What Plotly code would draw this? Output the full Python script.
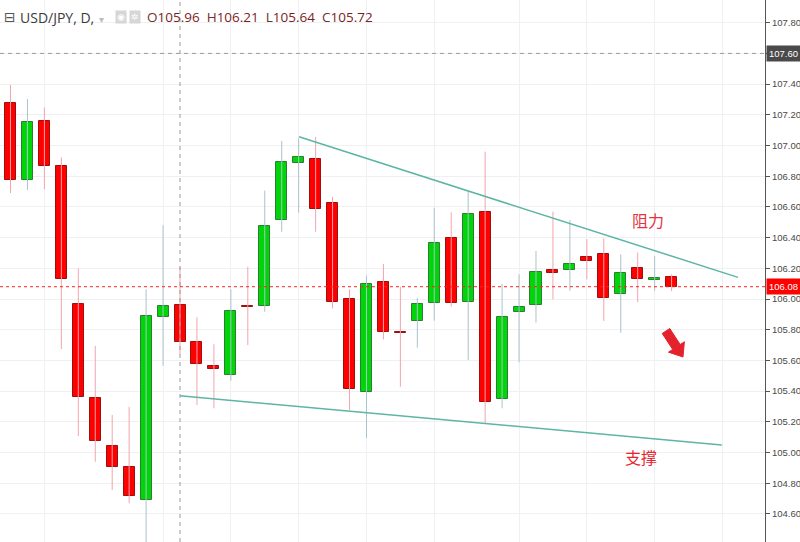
import math
import plotly.graph_objects as go

# ---------------- data ----------------
day = list(range(40))
opens = [107.275, 106.775, 107.162, 106.868, 105.967, 105.353, 105.044, 104.907, 104.690, 105.881,
         105.96, 105.718, 105.566, 105.503, 105.952, 105.956, 106.515, 106.884, 106.910, 106.627,
         106.002, 105.396, 106.113, 105.782, 105.857, 105.972, 106.395, 105.982, 106.569, 105.346,
         105.917, 105.963, 106.189, 106.189, 106.274, 106.293, 106.031, 106.202, 106.122, 106.141]
highs = [107.394, 107.303, 107.249, 106.923, 106.200, 105.694, 105.244, 105.298, 106.063, 106.480,
         106.21, 105.881, 105.705, 106.063, 106.210, 106.706, 107.029, 107.047, 107.057, 106.666,
         106.063, 106.152, 106.228, 106.080, 106.008, 106.595, 106.565, 106.704, 106.960, 106.098,
         106.161, 106.313, 106.569, 106.515, 106.391, 106.395, 106.291, 106.304, 106.280, 106.161]
lows = [106.690, 106.710, 106.715, 105.674, 105.107, 104.940, 104.756, 104.669, 104.400, 105.565,
        105.64, 105.309, 105.288, 105.468, 105.700, 105.917, 106.438, 106.562, 106.438, 105.939,
        105.277, 105.093, 105.737, 105.429, 105.683, 105.859, 105.950, 105.603, 105.190, 105.288,
        105.588, 105.846, 105.998, 106.054, 106.128, 105.857, 105.780, 105.979, 106.054, 106.052]
closes = [106.775, 107.155, 106.868, 106.132, 105.364, 105.077, 104.904, 104.717, 105.891, 105.954,
          105.72, 105.575, 105.542, 105.920, 105.948, 106.476, 106.891, 106.923, 106.588, 105.982,
          105.412, 106.096, 105.783, 105.776, 105.965, 106.363, 105.972, 106.552, 105.331, 105.885,
          105.946, 106.178, 106.167, 106.228, 106.250, 106.008, 106.167, 106.128, 106.139, 106.080]

# trend lines (day, price)
resist_x = [17.02, 42.92]
resist_y = [107.057, 106.141]
support_x = [10.0, 41.96]
support_y = [105.370, 105.049]

last_price = 106.08
cross_price = 107.60
cross_day = 10
week_grid = [2, 9, 13, 17, 21, 25, 30, 34, 38, 42]
y_ticks = [104.6, 104.8, 105.0, 105.2, 105.4, 105.6, 105.8, 106.0, 106.2, 106.4,
           106.6, 106.8, 107.0, 107.2, 107.4, 107.6, 107.8]
header_sym = "USD/JPY, D,"
ohlc_labels = ["O", "H", "L", "C"]
ohlc_vals = ["105.96", "106.21", "105.64", "105.72"]

# ---------------- styling ----------------
RED_FILL, RED_LINE, RED_WICK = "#ff0000", "#9c1010", "#f3a4ac"
GRN_FILL, GRN_LINE, GRN_WICK = "#00d50a", "#2f7d34", "#a8c3cb"
TREND = "#5db5a3"

W, H = 800, 542
R_MARGIN = 35
PW = W - R_MARGIN
x_range = [-0.619, 44.51]
y_range = [104.417, 107.948]

fig = go.Figure()

# wicks
for up, col in [(False, RED_WICK), (True, GRN_WICK)]:
    xs, ys = [], []
    for i in day:
        if (closes[i] >= opens[i]) == up:
            xs += [day[i], day[i], None]
            ys += [lows[i], highs[i], None]
    fig.add_trace(go.Scatter(x=xs, y=ys, mode="lines", line=dict(color=col, width=1),
                             hoverinfo="skip", showlegend=False))

# bodies
base = [min(o, c) for o, c in zip(opens, closes)]
hgt = [max(abs(c - o), 0.004) for o, c in zip(opens, closes)]
fills = [GRN_FILL if c >= o else RED_FILL for o, c in zip(opens, closes)]
borders = [GRN_LINE if c >= o else RED_LINE for o, c in zip(opens, closes)]
fig.add_trace(go.Bar(x=day, y=hgt, base=base, width=0.65,
                     marker=dict(color=fills, line=dict(color=borders, width=1)),
                     showlegend=False, hoverinfo="skip"))

# trend lines
fig.add_trace(go.Scatter(x=resist_x, y=resist_y, mode="lines",
                         line=dict(color=TREND, width=1.5), showlegend=False, hoverinfo="skip"))
fig.add_trace(go.Scatter(x=support_x, y=support_y, mode="lines",
                         line=dict(color=TREND, width=1.5), showlegend=False, hoverinfo="skip"))

# last price dotted line & crosshair
fig.add_shape(type="line", xref="paper", x0=0, x1=1, yref="y", y0=last_price, y1=last_price,
              line=dict(color="#ff2020", width=1, dash="dot"))
fig.add_shape(type="line", xref="paper", x0=0, x1=1, yref="y", y0=cross_price, y1=cross_price,
              line=dict(color="#9a9a9a", width=1, dash="4px,4px"))
fig.add_shape(type="line", xref="x", x0=cross_day, x1=cross_day, yref="paper", y0=0, y1=1,
              line=dict(color="#9a9a9a", width=1, dash="4px,4px"))

# price boxes on axis
for val, bg in [(cross_price, "#4a4a4a"), (last_price, "#ff0000")]:
    fig.add_annotation(x=1, xref="paper", y=val, yref="y", xanchor="left", yanchor="middle",
                       text=f"{val:.2f}", showarrow=False, bgcolor=bg, borderpad=2, xshift=1,
                       font=dict(color="white", size=9.5, family="Liberation Sans"))


def px(xp):
    return xp / PW


def py(yp):
    return 1 - yp / H


# header
hy = py(17)
fig.add_annotation(x=px(2), y=hy, xref="paper", yref="paper", xanchor="left", yanchor="middle",
                   text="⊟", showarrow=False, font=dict(size=14, color="#555", family="DejaVu Sans"))
fig.add_annotation(x=px(18), y=hy, xref="paper", yref="paper", xanchor="left", yanchor="middle",
                   text=header_sym, showarrow=False,
                   font=dict(size=14, color="#3a3a3a", family="Open Sans"))
fig.add_annotation(x=px(97), y=hy - 0.004, xref="paper", yref="paper", xanchor="left", yanchor="middle",
                   text="▾", showarrow=False, font=dict(size=10, color="#bdbdbd", family="DejaVu Sans"))
for xi, g in [(115, "◉"), (129, "✲")]:
    fig.add_annotation(x=px(xi), y=hy, xref="paper", yref="paper", xanchor="left", yanchor="middle",
                       text=g, showarrow=False, bgcolor="#d6d6d6", borderpad=1,
                       font=dict(size=9, color="#ffffff", family="DejaVu Sans"))
parts = []
for lab, v in zip(ohlc_labels, ohlc_vals):
    parts.append(f"<span style='color:#6e3030'>{lab}</span>{v}")
fig.add_annotation(x=px(145), y=hy, xref="paper", yref="paper", xanchor="left", yanchor="middle",
                   text="&nbsp;&nbsp;".join(parts), showarrow=False,
                   font=dict(size=13.5, color="#7b1d1d", family="Open Sans"))

# chinese labels
fig.add_annotation(x=px(648), y=py(220), xref="paper", yref="paper", text="阻力",
                   xanchor="center", yanchor="middle",
                   showarrow=False, font=dict(size=16, color="#e5343e", family="Noto Sans CJK SC"))
fig.add_annotation(x=px(641), y=py(457), xref="paper", yref="paper", text="支撑",
                   xanchor="center", yanchor="middle",
                   showarrow=False, font=dict(size=16, color="#e5262f", family="Noto Sans CJK SC"))

# red arrow (decoration) as a filled path
tx, ty, hx, hy2 = 666, 331, 683, 357
L = math.hypot(hx - tx, hy2 - ty)
dx, dy = (hx - tx) / L, (hy2 - ty) / L
nx, ny = -dy, dx
sw, hw, hl = 4.5, 9.5, 12
neck = (hx - dx * hl, hy2 - dy * hl)
pts = [(tx + nx * sw, ty + ny * sw), (neck[0] + nx * sw, neck[1] + ny * sw),
       (neck[0] + nx * hw, neck[1] + ny * hw), (hx, hy2),
       (neck[0] - nx * hw, neck[1] - ny * hw), (neck[0] - nx * sw, neck[1] - ny * sw),
       (tx - nx * sw, ty - ny * sw)]
path = "M " + " L ".join(f"{px(a):.5f},{py(b):.5f}" for a, b in pts) + " Z"
fig.add_shape(type="path", xref="paper", yref="paper", path=path,
              fillcolor="#e5222b", line=dict(color="#e5222b", width=1))

tick_text = ["" if abs(v - cross_price) < 1e-9 else f"{v:.2f}" for v in y_ticks]

fig.update_layout(
    width=W, height=H, margin=dict(l=0, r=R_MARGIN, t=0, b=0, autoexpand=False),
    paper_bgcolor="white", plot_bgcolor="white", bargap=0, showlegend=False,
    xaxis=dict(range=x_range, showticklabels=False, tickmode="array", tickvals=week_grid,
               showgrid=True, gridcolor="#eef0f2", gridwidth=1, zeroline=False, ticks="",
               showline=False, fixedrange=True),
    yaxis=dict(range=y_range, side="right", tickmode="array", tickvals=y_ticks,
               ticktext=tick_text,
               showgrid=True, gridcolor="#eef0f2", gridwidth=1, zeroline=False,
               ticks="outside", ticklen=4, tickcolor="#555", showline=True, linecolor="#555",
               linewidth=1, ticklabelstandoff=0,
               tickfont=dict(size=9.5, color="#4a4a4a", family="Liberation Sans"),
               fixedrange=True),
)

fig.write_html("out.html", config={"displayModeBar": False},
               post_script="document.body.style.margin='0';document.body.style.overflow='hidden';")
